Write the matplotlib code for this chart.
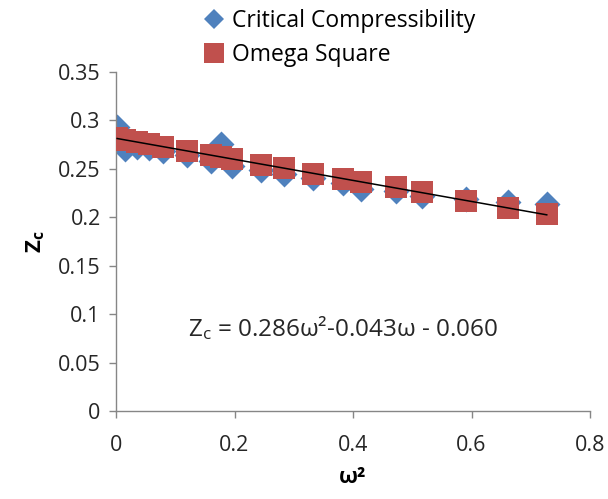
import numpy as np
import matplotlib
matplotlib.use("Agg")
import matplotlib.pyplot as plt
from matplotlib.lines import Line2D

plt.rcParams['font.family'] = ['Open Sans', 'DejaVu Sans']
plt.rcParams['mathtext.fontset'] = 'custom'
plt.rcParams['mathtext.rm'] = 'Open Sans'
plt.rcParams['mathtext.it'] = 'Open Sans'
plt.rcParams['mathtext.bf'] = 'Open Sans:bold'

# Data (omega^2 on x, Zc on y)
omega_sq = [0.002, 0.015, 0.035, 0.055, 0.08, 0.12, 0.16, 0.178, 0.196, 0.245,
            0.283, 0.333, 0.383, 0.413, 0.472, 0.516, 0.59, 0.662, 0.727]
zc_critical = [0.293, 0.270, 0.273, 0.272, 0.268, 0.264, 0.258, 0.276, 0.253, 0.249,
               0.245, 0.241, 0.235, 0.229, 0.227, 0.222, 0.219, 0.216, 0.214]
zc_omega = [0.282, 0.280, 0.278, 0.276, 0.273, 0.268, 0.264, 0.262, 0.260, 0.254,
            0.251, 0.245, 0.240, 0.236, 0.231, 0.226, 0.217, 0.2095, 0.203]

x_ticks = [0, 0.2, 0.4, 0.6, 0.8]
x_tick_labels = ['0', '0.2', '0.4', '0.6', '0.8']
y_ticks = [0, 0.05, 0.1, 0.15, 0.2, 0.25, 0.3, 0.35]
y_tick_labels = ['0', '0.05', '0.1', '0.15', '0.2', '0.25', '0.3', '0.35']

blue = '#4F81BD'
red = '#C0504D'
gray = '#868686'

fig = plt.figure(figsize=(6.08, 4.99), dpi=100)
ax = fig.add_axes([116/608, 1-411/499, (590-116)/608, (411-72)/499])

ax.scatter(omega_sq, zc_critical, marker='D', s=175, color=blue, linewidths=0, zorder=2)
ax.scatter(omega_sq, zc_omega, marker='s', s=245, color=red, linewidths=0, zorder=3)

coef = np.polyfit(omega_sq, zc_omega, 1)
xs = np.array([min(omega_sq), max(omega_sq)])
ax.plot(xs, np.polyval(coef, xs), color='black', lw=1.1, zorder=4)

ax.set_xlim(0, 0.8)
ax.set_ylim(0, 0.35)
ax.set_xticks(x_ticks)
ax.set_xticklabels(x_tick_labels)
ax.set_yticks(y_ticks)
ax.set_yticklabels(y_tick_labels)
for s in ['top', 'right']:
    ax.spines[s].set_visible(False)
for s in ['left', 'bottom']:
    ax.spines[s].set_color(gray)
    ax.spines[s].set_linewidth(1.0)
ax.tick_params(axis='both', colors=gray, labelcolor='#262626', labelsize=15.5,
               length=5, width=1.0, direction='out')
ax.tick_params(axis='x', pad=12)
ax.tick_params(axis='y', pad=6)
ax.patch.set_visible(False)

ax.set_xlabel('ω²', fontsize=16, fontweight='bold', labelpad=8)
ax.set_ylabel(r'$\mathbf{Z_c}$', fontsize=16, labelpad=8)

fig.text(343/608, 1-328/499, r'Z$_\mathrm{c}$ = 0.286ω²-0.043ω - 0.060',
         fontsize=17.5, ha='center', va='center', color='#262626')

handles = [Line2D([], [], marker='D', color=blue, ls='none', markersize=10, markeredgewidth=0),
           Line2D([], [], marker='s', color=red, ls='none', markersize=14, markeredgewidth=0)]
fig.legend(handles, ['Critical Compressibility', 'Omega Square'],
           loc='upper left', bbox_to_anchor=(193/608, 1.0), frameon=False,
           fontsize=16.5, handlelength=1.0, handletextpad=0.3, labelspacing=0.42,
           borderaxespad=0)

fig.savefig('out.png', dpi=100)
